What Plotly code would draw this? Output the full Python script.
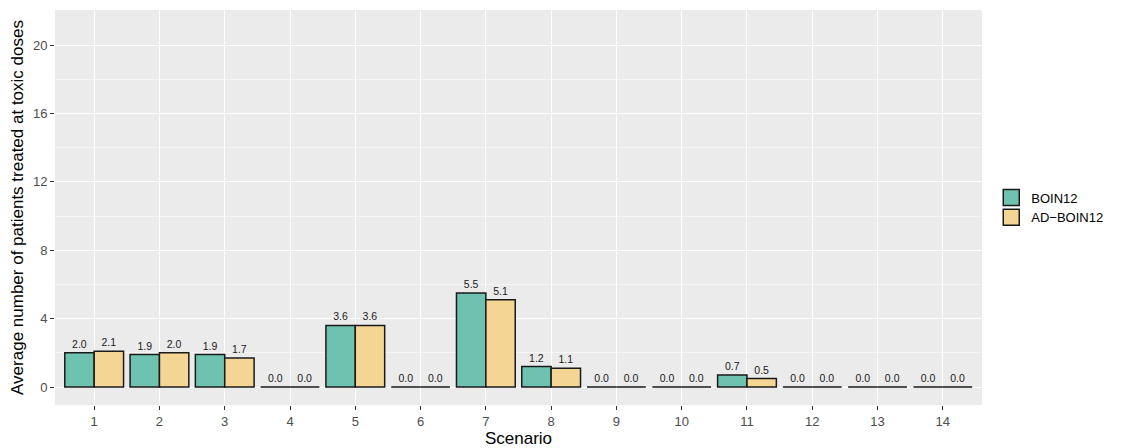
import plotly.graph_objects as go

scenarios = [str(i) for i in range(1, 15)]
boin12 = [2.0, 1.9, 1.9, 0.0, 3.6, 0.0, 5.5, 1.2, 0.0, 0.0, 0.7, 0.0, 0.0, 0.0]
ad_boin12 = [2.1, 2.0, 1.7, 0.0, 3.6, 0.0, 5.1, 1.1, 0.0, 0.0, 0.5, 0.0, 0.0, 0.0]
series_names = ["BOIN12", "AD\u2212BOIN12"]
colors = ["#6DC3B0", "#F5D594"]

fig = go.Figure()
for name, vals, col in zip(series_names, [boin12, ad_boin12], colors):
    fig.add_trace(go.Bar(
        x=scenarios, y=vals, name=name, showlegend=False,
        marker=dict(color=col, line=dict(color="#1a1a1a", width=1.5)),
        text=[f"{v:.1f}" for v in vals], textposition="outside",
        textfont=dict(size=10.5, color="#1a1a1a", family="Liberation Sans"),
        constraintext="none", textangle=0, cliponaxis=False,
    ))
    fig.add_trace(go.Scatter(
        x=[None], y=[None], mode="markers", name=name,
        marker=dict(symbol="square", size=24, color=col, line=dict(color="#1a1a1a", width=1.5)),
    ))

# page has an 8px body margin, so the figure is 8px smaller and shifted
fig.update_layout(
    width=1117, height=440,
    margin=dict(l=47, r=143, t=2, b=43, autoexpand=False),
    paper_bgcolor="white", plot_bgcolor="#EBEBEB",
    barmode="group", bargap=0.1, bargroupgap=0,
    font=dict(family="Liberation Sans", color="#4D4D4D"),
    legend=dict(x=1.01, y=0.5, xanchor="left", yanchor="middle", itemsizing="trace",
                font=dict(size=13, color="#000000"), tracegroupgap=0,
                bgcolor="rgba(0,0,0,0)"),
    xaxis=dict(
        title=dict(text="Scenario", font=dict(size=17, color="#000000"), standoff=2),
        range=[-0.6, 13.6], showgrid=True, gridcolor="white", gridwidth=1.3,
        ticks="outside", ticklen=4, tickcolor="#333333", tickwidth=1,
        tickfont=dict(size=13, color="#4D4D4D"), zeroline=False, automargin=False,
    ),
    yaxis=dict(
        title=dict(text="Average number of patients treated at toxic doses",
                   font=dict(size=17, color="#000000"), standoff=6),
        range=[-1.05, 22.05], tickvals=[0, 4, 8, 12, 16, 20],
        showgrid=True, gridcolor="white", gridwidth=1.3,
        minor=dict(tickvals=[2, 6, 10, 14, 18, 22], showgrid=True, gridcolor="#F5F5F5", gridwidth=0.6),
        ticks="outside", ticklen=4, tickcolor="#333333", tickwidth=1,
        tickfont=dict(size=13, color="#4D4D4D"), zeroline=False, automargin=False,
    ),
)
fig.write_html("out.html")
